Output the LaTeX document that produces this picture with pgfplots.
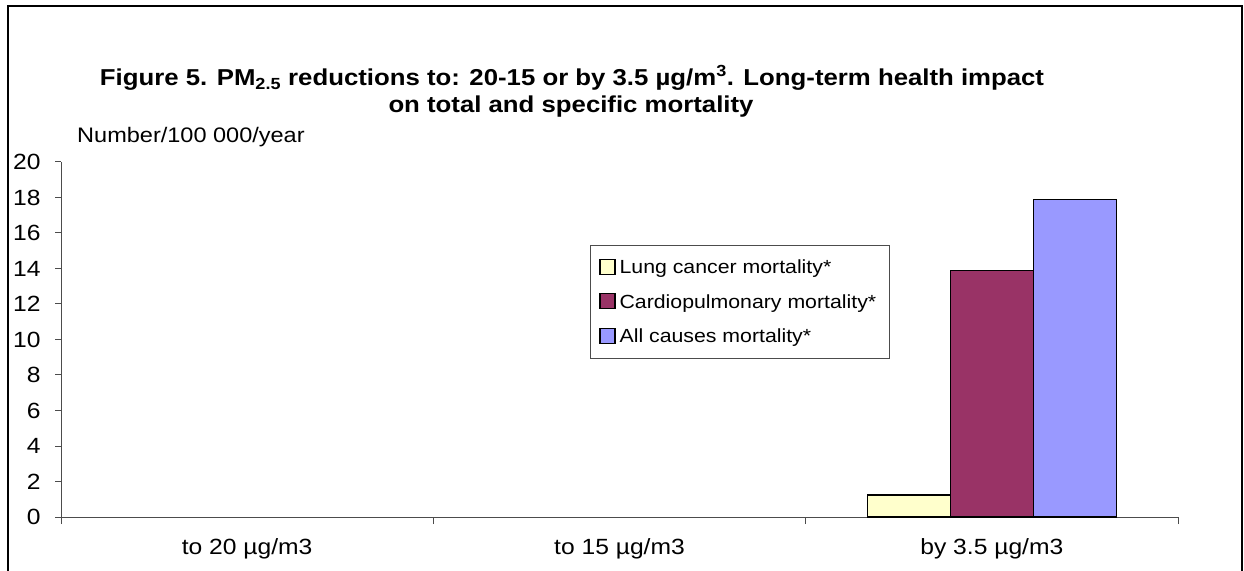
\documentclass[border=0pt]{standalone}
\usepackage{fontspec}
\setmainfont{Liberation Sans}[FakeStretch=1.12]
\usepackage{pgfplots}
\pgfplotsset{compat=1.18}
\definecolor{cyel}{HTML}{FFFFCC}
\definecolor{cmar}{HTML}{993366}
\definecolor{cblu}{HTML}{9999FF}
\begin{document}
\begin{tikzpicture}[x=1pt,y=1pt]
\path[use as bounding box] (0,0) rectangle (1244,570);
\draw[line width=1.3pt] (8,-2) -- (8,564) -- (1242,564) -- (1242,-2);
\node[font=\fontsize{23}{27}\selectfont\bfseries] at (572,492) {Figure 5. PM\textsubscript{2.5} reductions to: 20-15 or by 3.5 µg/m\textsuperscript{3}. Long-term health impact};
\node[font=\fontsize{23}{27}\selectfont\bfseries] at (571,463) {on total and specific mortality};
\node[anchor=west, font=\fontsize{21}{25}\selectfont, inner sep=0pt] at (77,433) {Number/100 000/year};
\begin{axis}[
  at={(61pt,53pt)}, anchor=south west, scale only axis,
  width=1117pt, height=355pt,
  ymin=0, ymax=20, ytick={0,2,...,20},
  xmin=0.5, xmax=3.5, xtick={1,2,3},
  xticklabels={to 20 µg/m3, to 15 µg/m3, by 3.5 µg/m3},
  minor xtick={0.5,1.5,2.5,3.5},
  axis x line*=bottom, axis y line*=left,
  axis line style={black!70, line width=1pt, -},
  tick style={black!70, line width=1pt},
  major x tick style={draw=none},
  tick align=outside, major tick length=6pt, minor tick length=7pt,
  ticklabel style={font=\fontsize{22}{26}\selectfont},
  xticklabel style={yshift=-12pt},
  yticklabel style={xshift=-11pt},
  /pgf/number format/assume math mode=true,
  ybar=0pt, bar width=83pt,
  legend cell align=left,
  legend style={at={(0.4736,0.766)}, anchor=north west, draw=black!70, line width=0.8pt,
    font=\fontsize{19}{23}\selectfont, row sep=15.5pt, inner xsep=9pt, inner ysep=12pt,
    nodes={inner xsep=4pt}},
  legend image code/.code={\draw[#1, line width=1.2pt] (0pt,-7pt) rectangle (15pt,8pt);},
]
\addplot[fill=cyel, draw=black, line width=1.5pt] coordinates {(3,1.25)};
\addplot[fill=cmar, draw=black, line width=1.5pt] coordinates {(3,13.9)};
\addplot[fill=cblu, draw=black, line width=1.5pt] coordinates {(3,17.9)};
\legend{Lung cancer mortality*, Cardiopulmonary mortality*, All causes mortality*}
\end{axis}
\end{tikzpicture}
\end{document}
